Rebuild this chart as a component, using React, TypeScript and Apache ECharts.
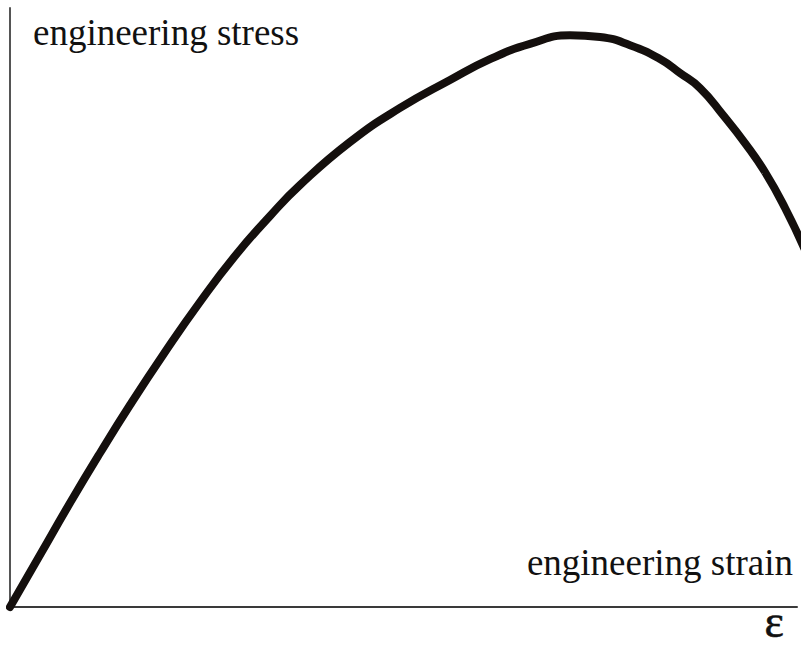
import React, { useEffect, useRef } from "react";
import * as echarts from "echarts";

// engineering strain (% of axis length) and engineering stress (% of axis height)
const strain = [0, 3.81, 7.62, 11.44, 15.25, 19.7, 24.14, 28.59, 33.04, 36.85, 43.2, 49.56, 55.91, 60.99, 66.07, 71.16, 74.97, 78.78, 82.59, 85.13, 87.68, 90.6, 93.39, 95.93, 98.48, 101.02];
const stress = [0, 8.68, 17.36, 25.71, 33.72, 42.57, 50.92, 58.6, 65.28, 70.45, 77.63, 83.31, 87.98, 91.45, 94.0, 95.45, 95.15, 93.8, 91.49, 89.15, 86.64, 82.14, 77.46, 72.62, 66.61, 59.6];

const yLabel = "engineering stress";
const xLabel = "engineering strain";
const xSymbol = "ε";

export default function App() {
  const ref = useRef<HTMLDivElement>(null);
  useEffect(() => {
    if (!ref.current) return;
    const chart = echarts.init(ref.current, null, { renderer: "svg" });
    const font = "'Liberation Serif', 'Times New Roman', serif";
    chart.setOption({
      animation: false,
      backgroundColor: "#ffffff",
      grid: { left: 10, right: 8, top: 8, bottom: 42 },
      xAxis: {
        type: "value",
        min: 0,
        max: 100,
        axisLine: { show: true, lineStyle: { color: "#3a3a3a", width: 2 } },
        axisTick: { show: false },
        axisLabel: { show: false },
        splitLine: { show: false },
      },
      yAxis: {
        type: "value",
        min: 0,
        max: 100,
        axisLine: { show: true, lineStyle: { color: "#555555", width: 2 } },
        axisTick: { show: false },
        axisLabel: { show: false },
        splitLine: { show: false },
      },
      series: [
        {
          type: "line",
          data: strain.map((x, i) => [x, stress[i]]),
          smooth: 0.5,
          showSymbol: false,
          clip: false,
          lineStyle: { color: "#140f0d", width: 8, cap: "round" },
        },
      ],
      graphic: [
        {
          type: "text",
          left: 33,
          top: 14,
          style: { text: yLabel, font: `37px ${font}`, fill: "#111" },
        },
        {
          type: "text",
          right: 12,
          top: 544,
          style: { text: xLabel, font: `37px ${font}`, fill: "#111" },
        },
        {
          type: "text",
          right: 21,
          top: 598,
          style: { text: xSymbol, font: `46px ${font}`, fill: "#111", stroke: "#111", lineWidth: 0.6 },
        },
      ],
    });
    return () => chart.dispose();
  }, []);
  return (
    <div
      ref={ref}
      style={{ position: "fixed", left: 0, top: 0, width: 805, height: 649, background: "#fff" }}
    />
  );
}
